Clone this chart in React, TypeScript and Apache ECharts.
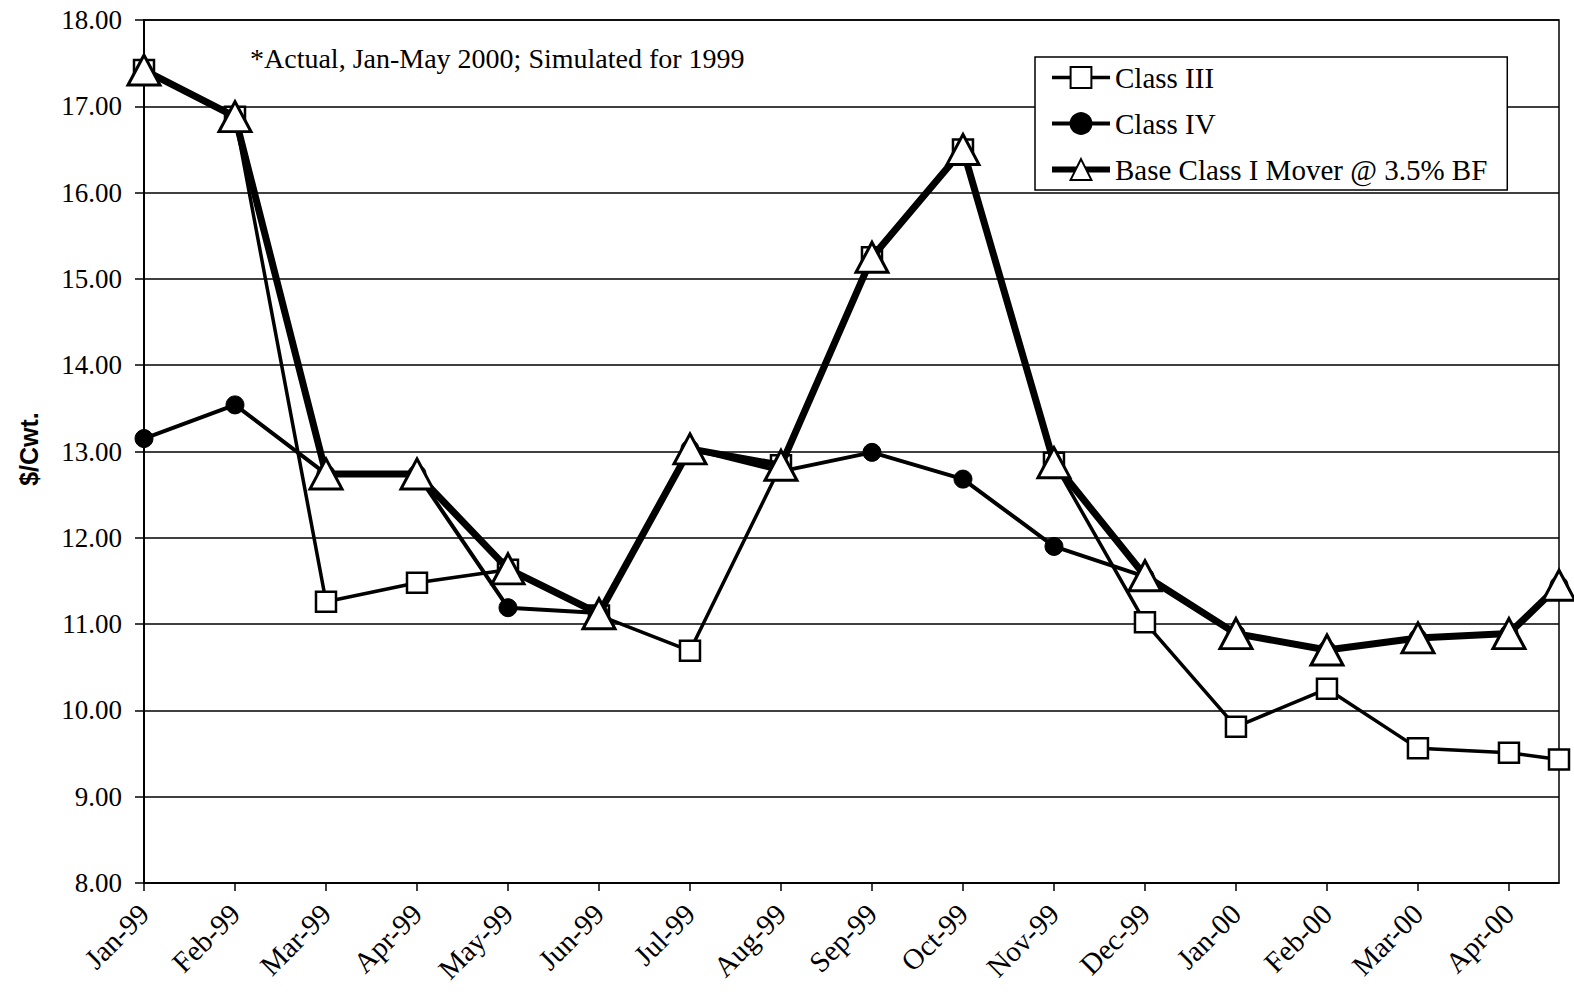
import React, { useEffect, useRef } from "react";
import * as echarts from "echarts";

const monthLabels = ["Jan-99", "Feb-99", "Mar-99", "Apr-99", "May-99", "Jun-99", "Jul-99", "Aug-99", "Sep-99", "Oct-99", "Nov-99", "Dec-99", "Jan-00", "Feb-00", "Mar-00", "Apr-00"];
const monthPos = [0, 1, 2, 3, 4, 5, 6, 7, 8, 9, 10, 11, 12, 13, 14, 15, 15.55];
const classIII = [17.42, 16.88, 11.26, 11.48, 11.63, 11.1, 10.69, 12.84, 15.25, 16.5, 12.87, 11.02, 9.81, 10.25, 9.56, 9.51, 9.43];
const classIV = [13.15, 13.54, 12.74, 12.74, 11.19, 11.13, 13.03, 12.77, 12.99, 12.68, 11.9, 11.55, 10.89, 10.7, 10.84, 10.89, 11.45];
const baseClassI = [17.42, 16.88, 12.74, 12.74, 11.64, 11.12, 13.03, 12.84, 15.25, 16.5, 12.87, 11.56, 10.89, 10.7, 10.84, 10.89, 11.45];
const yTicks = { min: 8, max: 18, interval: 1 };

const SERIF = '"Liberation Serif", "Times New Roman", serif';

function pairs(vals: number[]) {
  return vals.map((v, i) => [monthPos[i], v]);
}

export default function App() {
  const ref = useRef<HTMLDivElement>(null);
  useEffect(() => {
    if (!ref.current) return;
    const chart = echarts.init(ref.current, undefined, { renderer: "svg" });
    chart.setOption({
      animation: false,
      backgroundColor: "#fff",
      grid: {
        left: 144,
        right: 15,
        top: 20,
        bottom: 123,
        show: true,
        borderColor: "#000",
        borderWidth: 1.5,
      },
      legend: {
        orient: "vertical",
        left: 1035,
        top: 57,
        padding: [6, 20, 6, 14],
        itemWidth: 58,
        itemHeight: 26,
        itemGap: 17,
        backgroundColor: "#fff",
        borderColor: "#000",
        borderWidth: 1.5,
        borderRadius: 0,
        textStyle: { fontFamily: SERIF, fontSize: 29, color: "#000" },
        data: [
          { name: "Class III", lineStyle: { width: 3.5, color: "#000" } },
          { name: "Class IV", lineStyle: { width: 4, color: "#000" } },
          { name: "Base Class I Mover @ 3.5% BF", lineStyle: { width: 6, color: "#000" } },
        ],
      },
      xAxis: {
        type: "value",
        min: 0,
        max: 15.55,
        interval: 1,
        splitLine: { show: false },
        axisLine: { lineStyle: { color: "#000", width: 1.5 } },
        axisTick: { show: true, length: 8, lineStyle: { color: "#000", width: 1.5 } },
        axisLabel: {
          rotate: 45,
          margin: 26,
          fontFamily: SERIF,
          fontSize: 29,
          color: "#000",
          showMaxLabel: false,
          formatter: (v: number) => {
            const r = Math.round(v);
            return Math.abs(v - r) < 1e-6 && monthLabels[r] ? monthLabels[r] : "";
          },
        },
      },
      yAxis: {
        type: "value",
        min: yTicks.min,
        max: yTicks.max,
        interval: yTicks.interval,
        axisLine: { show: true, lineStyle: { color: "#000", width: 2 } },
        axisTick: { show: true, length: 9, lineStyle: { color: "#000", width: 1.5 } },
        splitLine: { show: true, lineStyle: { color: "#000", width: 1.5 } },
        axisLabel: {
          margin: 22,
          fontFamily: SERIF,
          fontSize: 27,
          color: "#000",
          formatter: (v: number) => v.toFixed(2),
        },
      },
      graphic: [
        {
          type: "text",
          left: 250,
          top: 44,
          style: {
            text: "*Actual, Jan-May 2000; Simulated for 1999",
            font: '28px "Liberation Serif"',
            fill: "#000",
          },
        },
        {
          type: "text",
          x: 29,
          y: 449,
          rotation: Math.PI / 2,
          style: {
            text: "$/Cwt.",
            font: 'bold 25px "Liberation Sans"',
            fill: "#000",
            align: "center",
            verticalAlign: "middle",
          },
        },
      ],
      series: [
        {
          name: "Class III",
          type: "line",
          data: pairs(classIII),
          symbol: "rect",
          symbolSize: 20,
          showAllSymbol: true,
          lineStyle: { color: "#000", width: 3.5 },
          itemStyle: { color: "#fff", borderColor: "#000", borderWidth: 2.5 },
          z: 2,
        },
        {
          name: "Class IV",
          type: "line",
          data: pairs(classIV),
          symbol: "circle",
          symbolSize: 18,
          showAllSymbol: true,
          lineStyle: { color: "#000", width: 4 },
          itemStyle: { color: "#000", borderColor: "#000", borderWidth: 1 },
          z: 3,
        },
        {
          name: "Base Class I Mover @ 3.5% BF",
          type: "line",
          data: pairs(baseClassI),
          symbol: "triangle",
          symbolSize: [32, 30],
          showAllSymbol: true,
          lineStyle: { color: "#000", width: 7 },
          itemStyle: { color: "#fff", borderColor: "#000", borderWidth: 3 },
          z: 4,
        },
      ],
    });
    return () => chart.dispose();
  }, []);
  return (
    <div
      ref={ref}
      style={{ position: "absolute", left: 0, top: 0, width: 1574, height: 1006 }}
    />
  );
}
